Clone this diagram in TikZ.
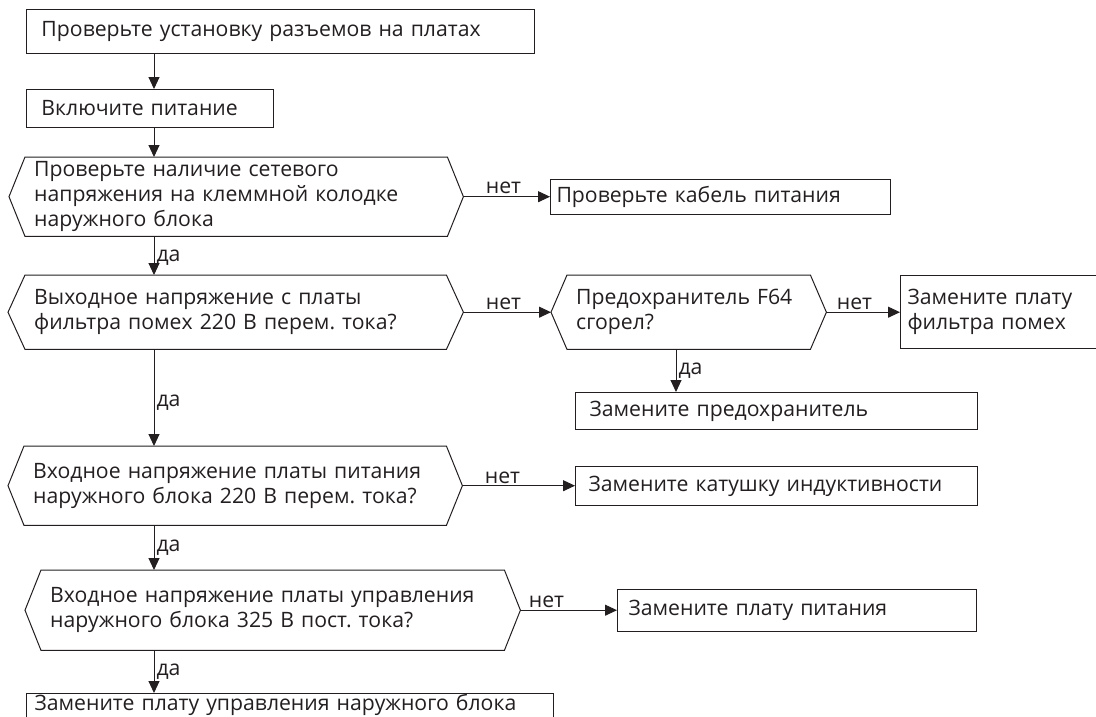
\documentclass[tikz,border=0pt]{standalone}
\usepackage{fontspec}
\setmainfont{Open Sans}
\usetikzlibrary{arrows.meta}

\definecolor{ink}{HTML}{231F20}
\frenchspacing

\tikzset{
    box/.style={draw=ink, line width=1pt, rectangle, anchor=north west, align=left, inner ysep=0pt, inner xsep=#1},
    box/.default=14pt,
    dec/.style={rectangle, anchor=north west, align=left, inner ysep=0pt, inner xsep=9pt},
    arr/.style={draw=ink, line width=1pt, -{Triangle[length=12pt,width=11pt]}},
    lbl/.style={inner sep=2pt, text=ink}
}

% шестиугольник решения вокруг узла #1, острие #2
\newcommand{\hexdec}[2]{%
    \draw[ink, line width=1pt] (#1.north west) -- (#1.north east) -- ([xshift=#2]#1.east)
        -- (#1.south east) -- (#1.south west) -- ([xshift=-#2]#1.west) -- cycle;
    \coordinate (#1-r) at ([xshift=#2]#1.east);
    \coordinate (#1-l) at ([xshift=-#2]#1.west);
}

\begin{document}
\begin{tikzpicture}[x=1pt, y=-1pt, font=\fontsize{21.2}{25}\selectfont, text=ink]
    \useasboundingbox (0,0) rectangle (1096,716);
    \clip (0,0) rectangle (1096,716);

    % основная колонка
    \coordinate (spine) at (154,0);
    \coordinate (spine2) at (676,0);

    \node[box=15pt, text width=478pt, minimum height=44pt] (b1) at (26,9) {Проверьте установку разъемов на платах};
    \node[box=15pt, text width=217pt, minimum height=38pt] (b2) at (26,89) {Включите питание};

    \node[dec, text width=404pt, minimum height=79pt] (d1) at (25,157)
        {Проверьте наличие сетевого\\напряжения на клеммной колодке\\наружного блока};
    \hexdec{d1}{16pt}
    \node[box=6pt, text width=328pt, minimum height=35pt] (k1) at (550,179) {Проверьте кабель питания};

    \node[dec, text width=403pt, minimum height=74pt] (d2) at (25,275)
        {Выходное напряжение с платы\\фильтра помех 220 В перем. тока?};
    \hexdec{d2}{17pt}
    \node[dec, text width=225pt, minimum height=74pt] (d3) at (567,275)
        {Предохранитель F64\\сгорел?};
    \hexdec{d3}{16pt}
    \node[box=7pt, text width=196pt, minimum height=73pt] (k4) at (900,275)
        {Замените плату\\фильтра помех};
    \node[box=14pt, text width=374pt, minimum height=37pt] (p) at (575,392) {Замените предохранитель};

    \node[dec, text width=404pt, minimum height=79pt] (d4) at (24,446)
        {Входное напряжение платы питания\\наружного блока 220 В перем. тока?};
    \hexdec{d4}{16pt}
    \node[box=13pt, text width=376pt, minimum height=39pt] (k2) at (575,466) {Замените катушку индуктивности};

    \node[dec, text width=445pt, minimum height=80pt] (d5) at (41,570)
        {Входное напряжение платы управления\\наружного блока 325 В пост. тока?};
    \hexdec{d5}{16pt}
    \node[box=11pt, text width=337pt, minimum height=42pt] (k3) at (617,589) {Замените плату питания};

    \node[box=8pt, draw=none, text width=510pt, minimum height=22pt] (f) at (26,693)
        {Замените плату управления наружного блока};
    \draw[ink, line width=1pt] ([yshift=-20pt]f.south west) -- (f.north west) -- (f.north east) -- ([yshift=-20pt]f.south east);

    % стрелки вниз
    \draw[arr] (b1.south -| spine) -- (b2.north -| spine);
    \draw[arr] (b2.south -| spine) -- (d1.north -| spine);
    \draw[arr] (d1.south -| spine) -- node[lbl, right, pos=0.55] {да} (d2.north -| spine);
    \draw[arr] (d2.south -| spine) -- node[lbl, right, pos=0.55] {да} (d4.north -| spine);
    \draw[arr] (d4.south -| spine) -- node[lbl, right, pos=0.5] {да} (d5.north -| spine);
    \draw[arr] (d5.south -| spine) -- node[lbl, right, pos=0.5] {да} (f.north -| spine);
    \draw[arr] (d3.south -| spine2) -- node[lbl, right, pos=0.5] {да} (p.north -| spine2);

    % ветви "нет"
    \draw[arr] (d1-r) -- node[lbl, above right, at start, xshift=20pt] {нет} (d1-r -| k1.west);
    \draw[arr] (d2-r) -- node[lbl, above right, at start, xshift=20pt] {нет} (d2-l -| d3-l);
    \draw[arr] (d3-r) -- node[lbl, above right, at start, xshift=8pt] {нет} (d3-r -| k4.west);
    \draw[arr] (d4-r) -- node[lbl, above right, at start, xshift=20pt] {нет} (d4-r -| k2.west);
    \draw[arr] (d5-r) -- node[lbl, above right, at start, xshift=6pt] {нет} (d5-r -| k3.west);
\end{tikzpicture}
\end{document}
